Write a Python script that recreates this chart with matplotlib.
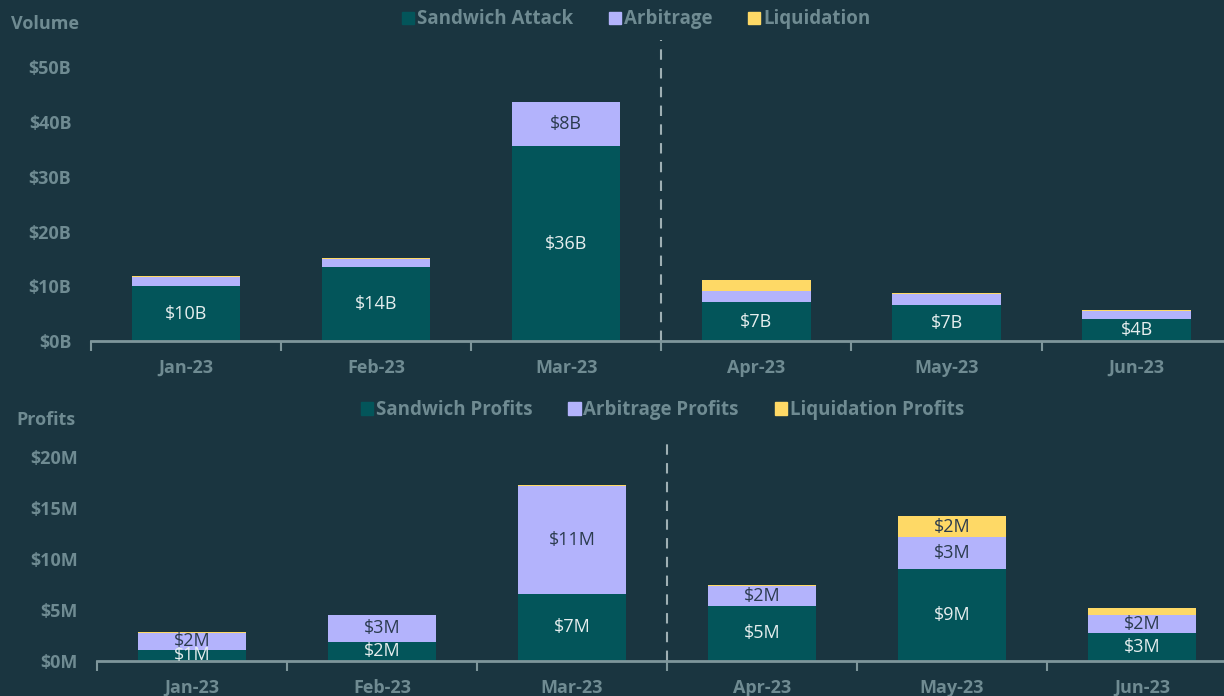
import numpy as np
import matplotlib
matplotlib.use("Agg")
import matplotlib.pyplot as plt
from matplotlib.patches import Patch

plt.rcParams['font.family'] = ['Open Sans', 'DejaVu Sans']

months = ['Jan-23', 'Feb-23', 'Mar-23', 'Apr-23', 'May-23', 'Jun-23']

# volume, $B
vol_sandwich = [10.0, 13.6, 35.6, 7.1, 6.6, 4.0]
vol_arb = [1.7, 1.3, 8.0, 2.0, 2.0, 1.5]
vol_liq = [0.2, 0.2, 0.1, 2.0, 0.2, 0.1]

# profits, $M
prof_sandwich = [1.1, 1.9, 6.6, 5.4, 9.0, 2.7]
prof_arb = [1.65, 2.6, 10.6, 2.0, 3.2, 1.8]
prof_liq = [0.05, 0.05, 0.1, 0.05, 2.0, 0.7]

BG = '#1a3540'
TEAL = '#03555a'
LAV = '#b3b3fc'
YEL = '#fed966'
GREY = '#6f8b92'
SPINE = '#7e969b'

fig = plt.figure(figsize=(12.24, 6.96), dpi=100, facecolor=BG)
ax1 = fig.add_axes([0.0743, 0.510, 0.932, 0.4325])
ax2 = fig.add_axes([0.0793, 0.0503, 0.9314, 0.3175])


def draw(ax, s, a, l, unit, thresh, ymax, yticks, names, leg_xy, ylabel, ylab_xy):
    ax.set_facecolor(BG)
    x = np.arange(len(months))
    w = 0.57
    s = np.array(s); a = np.array(a); l = np.array(l)
    ax.bar(x, s, w, color=TEAL)
    ax.bar(x, a, w, bottom=s, color=LAV)
    ax.bar(x, l, w, bottom=s + a, color=YEL)
    for i in x:
        if s[i] >= thresh:
            ax.text(i, s[i] / 2, '$%d%s' % (round(s[i]), unit), ha='center', va='center',
                    color='#e6eeee', fontsize=13)
        if a[i] >= thresh:
            ax.text(i, s[i] + a[i] / 2, '$%d%s' % (round(a[i]), unit), ha='center', va='center',
                    color='#2b3b4e', fontsize=13)
        if l[i] >= thresh:
            ax.text(i, s[i] + a[i] + l[i] / 2, '$%d%s' % (round(l[i]), unit), ha='center',
                    va='center', color='#2b3b4e', fontsize=13)
    ax.set_xlim(-0.5, len(months) - 0.5)
    ax.set_ylim(0, ymax)
    ax.axvline(2.5, color='#9fb0b4', ls=(0, (5, 4)), lw=1.5)
    for sp in ['top', 'right', 'left']:
        ax.spines[sp].set_visible(False)
    ax.spines['bottom'].set_color(SPINE)
    ax.spines['bottom'].set_linewidth(2)
    ax.set_xticks(x)
    ax.set_xticklabels(months, fontsize=13, fontweight='bold', color=GREY)
    ax.set_xticks(np.arange(-0.5, len(months), 1), minor=True)
    ax.tick_params(axis='x', which='major', length=0, pad=13)
    ax.tick_params(axis='x', which='minor', length=7, width=1.5, color=SPINE)
    ax.set_yticks(yticks)
    ax.set_yticklabels(['$%d%s' % (v, unit) for v in yticks], fontsize=13,
                       fontweight='bold', color=GREY)
    ax.tick_params(axis='y', length=0, pad=14)
    handles = [Patch(color=TEAL), Patch(color=LAV), Patch(color=YEL)]
    leg = ax.legend(handles, names, loc='lower center', bbox_to_anchor=leg_xy, ncol=3,
                    frameon=False, handlelength=0.65, handleheight=0.65, handletextpad=0.15,
                    columnspacing=1.9, borderaxespad=0, borderpad=0,
                    prop={'weight': 'bold', 'size': 13.5})
    for t in leg.get_texts():
        t.set_color(GREY)
    fig.text(ylab_xy[0], ylab_xy[1], ylabel, fontsize=13, fontweight='bold', color=GREY,
             va='center')


draw(ax1, vol_sandwich, vol_arb, vol_liq, 'B', 3, 55, [0, 10, 20, 30, 40, 50],
     ['Sandwich Attack', 'Arbitrage', 'Liquidation'], (0.478, 1.035), 'Volume', (0.009, 0.965))
draw(ax2, prof_sandwich, prof_arb, prof_liq, 'M', 1, 21.7, [0, 5, 10, 15, 20],
     ['Sandwich Profits', 'Arbitrage Profits', 'Liquidation Profits'], (0.496, 1.09),
     'Profits', (0.013, 0.396))

plt.savefig('out.png', dpi=100, facecolor=BG)
